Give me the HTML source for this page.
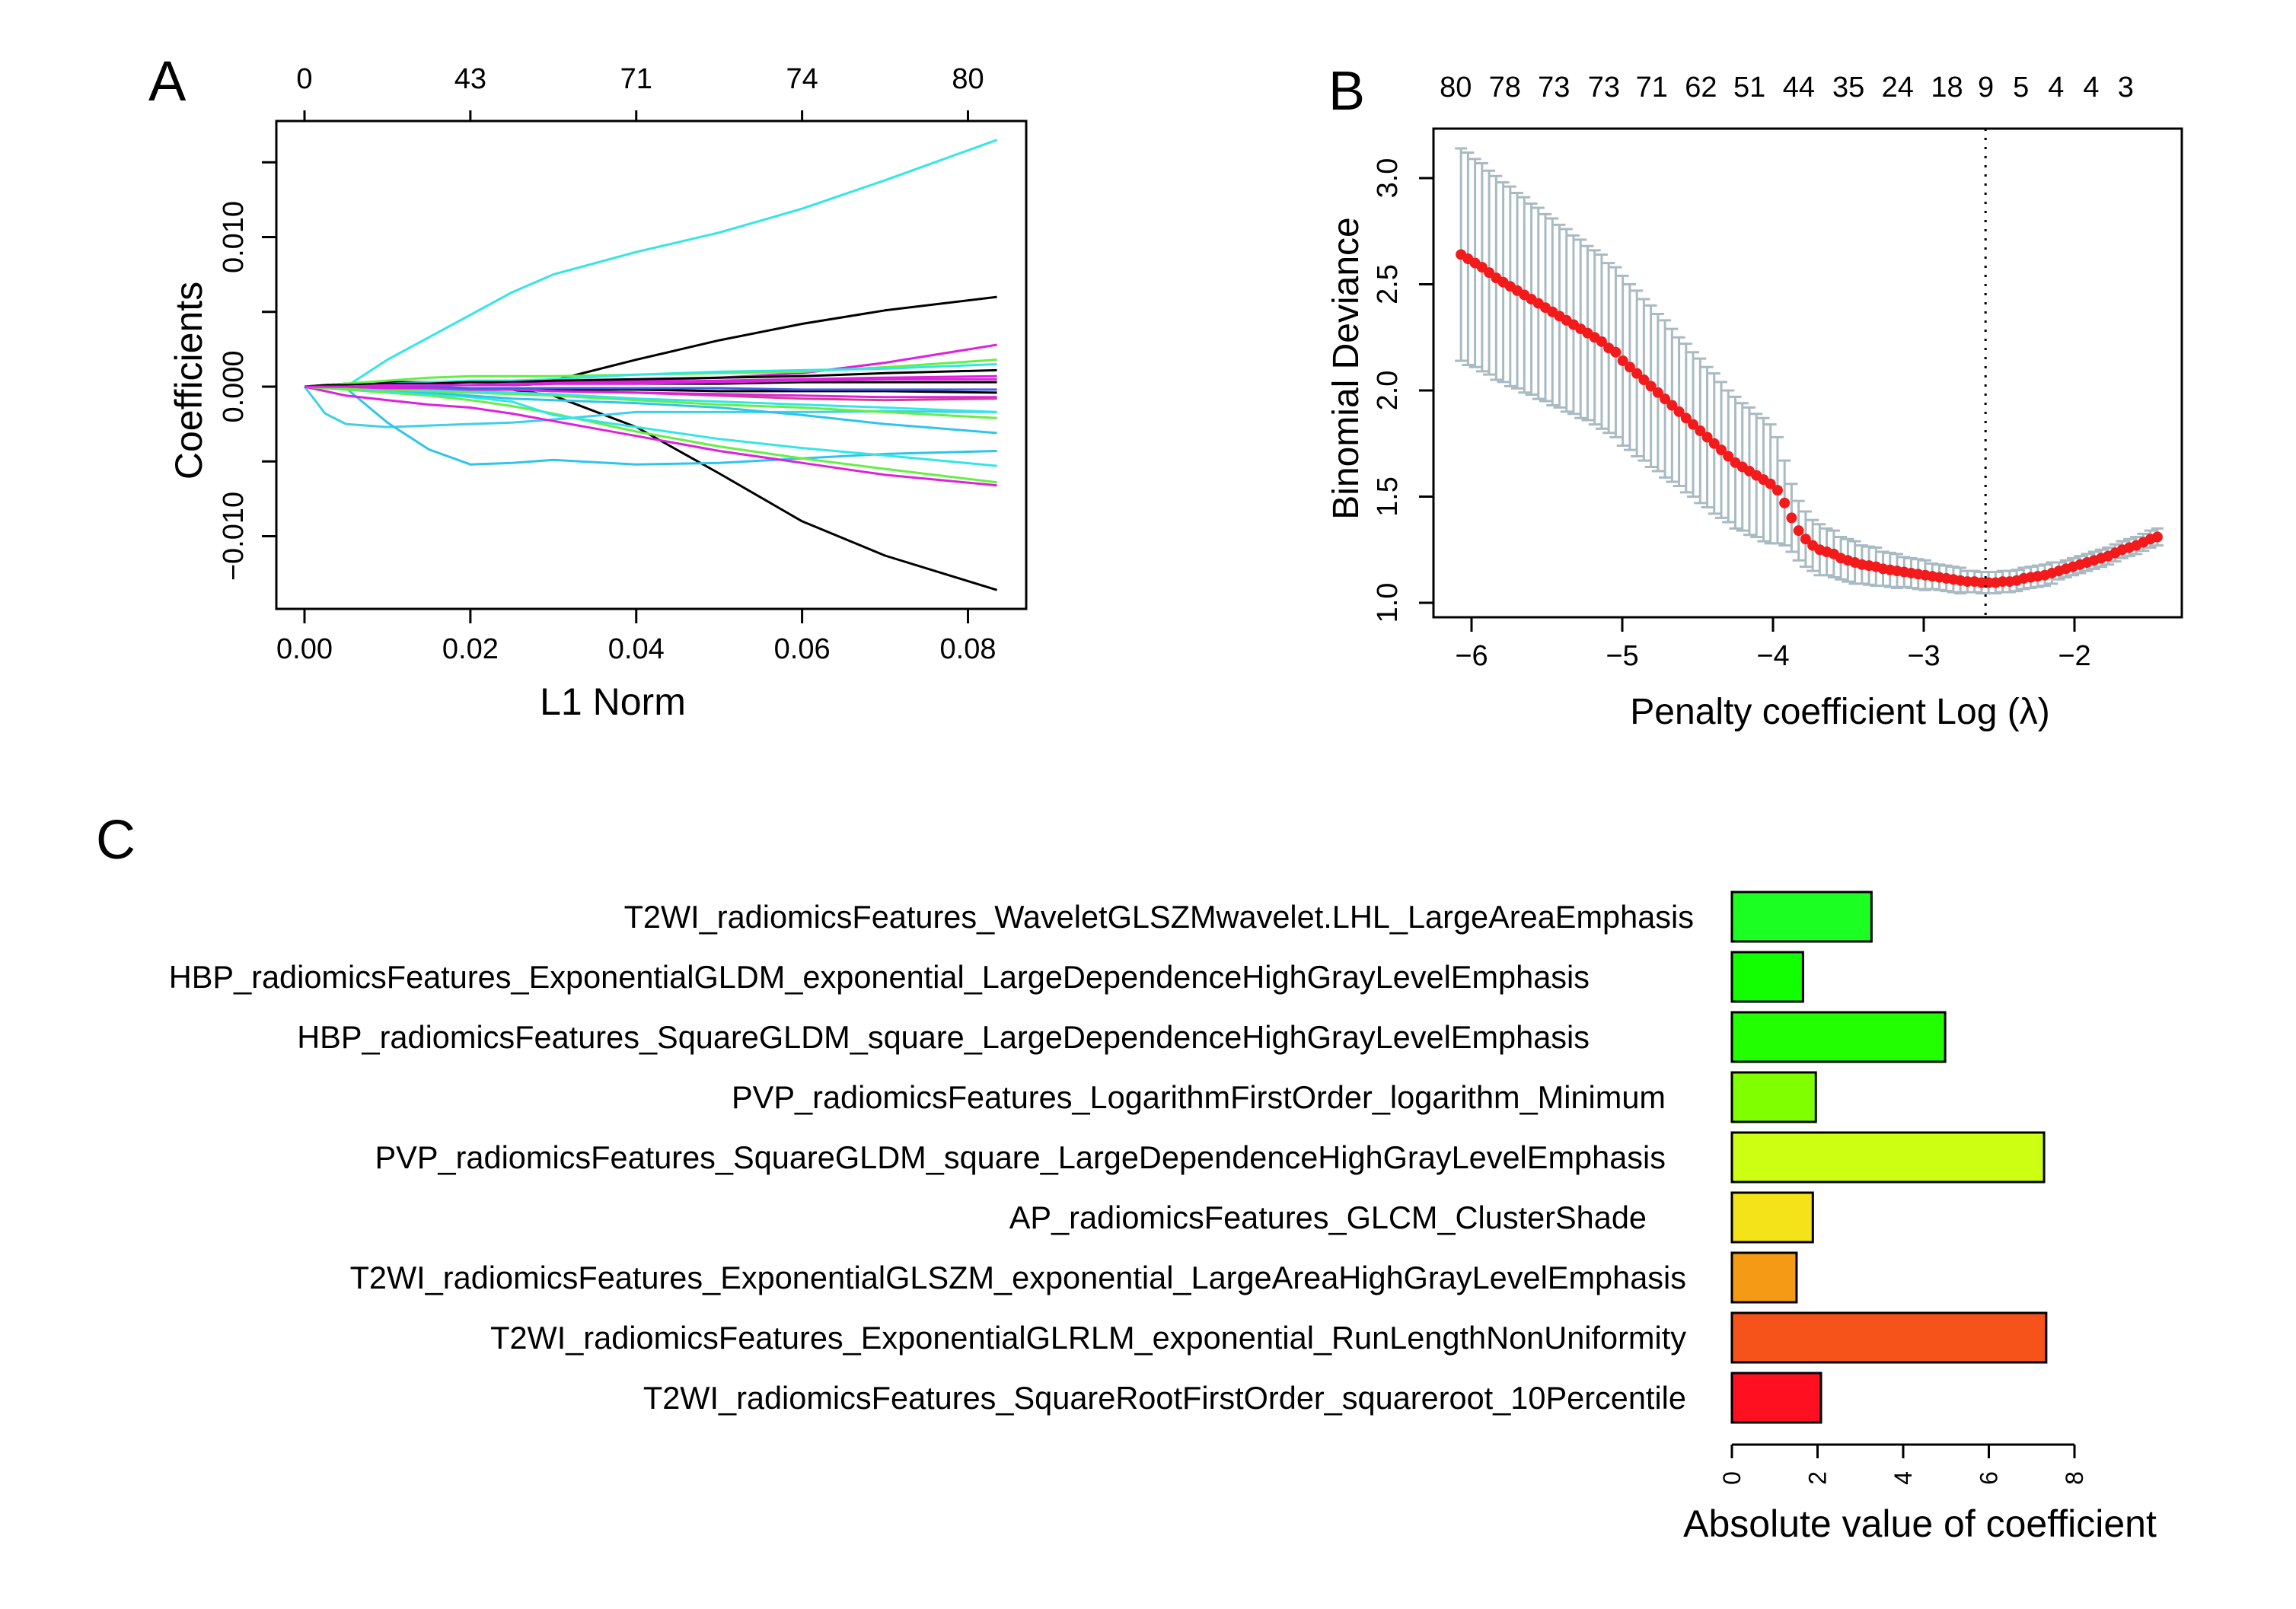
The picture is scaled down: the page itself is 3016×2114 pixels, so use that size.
<!DOCTYPE html>
<html><head><meta charset="utf-8"><style>
html,body{margin:0;padding:0;background:#fff}
svg{display:block;font-family:"Liberation Sans",Arial,sans-serif}
</style></head><body>
<svg id="fig" width="3016" height="2114" viewBox="0 0 3016 2114" xmlns="http://www.w3.org/2000/svg">
<rect width="3016" height="2114" fill="#fff"/>
<g id="pa"></g>
<g id="pb"></g>
<g id="pc"></g>
</svg>
<script>
// ===== Panel A data =====
const aL1 = [0,0.0025,0.005,0.01,0.015,0.02,0.025,0.03,0.04,0.05,0.06,0.07,0.0835];
const aXTicks = [0,0.02,0.04,0.06,0.08];
const aXTickLabels = ["0.00","0.02","0.04","0.06","0.08"];
const aTopLabels = ["0","43","71","74","80"];
const aYTicks = [-0.010,-0.005,0,0.005,0.010,0.015];
const aYTickLabels = ["\u22120.010","","0.000","","0.010",""];
const aColors = ["#33E6E6","#000","#000","#3DD0E8","#2EC4EE","#DD22DD","#66EE44","#33E6E6","#2EC4EE","#66EE44","#33E6E6","#DD22DD","#66EE44","#33E6E6","#000","#000","#000","#D04090","#DD22DD","#DD22DD","#4060E0","#DD22DD"];
const aSeries = [
[0,0,0,1.8,3.3,4.8,6.3,7.5,9.0,10.3,11.9,13.8,16.5],
[0,0.1,0.2,0.3,0.3,0.3,0.3,0.4,1.8,3.1,4.2,5.1,6.0],
[0,0,0,0,-0.1,-0.1,-0.2,-0.6,-2.7,-5.8,-9.0,-11.3,-13.6],
[0,-1.8,-2.5,-2.7,-2.6,-2.5,-2.4,-2.2,-1.7,-1.7,-1.7,-1.65,-1.7],
[0,-0.05,-0.1,-2.4,-4.2,-5.2,-5.1,-4.9,-5.2,-5.1,-4.8,-4.5,-4.3],
[0,-0.3,-0.6,-0.9,-1.2,-1.4,-1.8,-2.3,-3.3,-4.3,-5.1,-5.9,-6.6],
[0,-0.1,-0.2,-0.4,-0.6,-0.9,-1.3,-1.8,-3.0,-4.0,-4.8,-5.5,-6.4],
[0,0,-0.1,-0.3,-0.5,-0.7,-1.0,-1.9,-2.7,-3.5,-4.1,-4.6,-5.3],
[0,0,-0.1,-0.2,-0.4,-0.6,-0.8,-0.9,-1.1,-1.4,-1.9,-2.5,-3.1],
[0,0,-0.1,-0.2,-0.3,-0.4,-0.5,-0.6,-0.9,-1.2,-1.4,-1.7,-2.1],
[0,0,0,-0.1,-0.2,-0.3,-0.4,-0.5,-0.8,-1.0,-1.2,-1.4,-1.7],
[0,0,0,0,0.1,0.1,0.2,0.3,0.4,0.6,0.9,1.6,2.8],
[0,0.1,0.2,0.4,0.6,0.7,0.7,0.7,0.8,0.9,1.0,1.3,1.8],
[0,0,0.1,0.2,0.3,0.4,0.4,0.5,0.8,1.0,1.1,1.2,1.5],
[0,0.1,0.1,0.2,0.2,0.3,0.3,0.4,0.5,0.6,0.7,0.9,1.1],
[0,0,0,0.1,0.1,0.1,0.1,0.2,0.2,0.2,0.3,0.3,0.3],
[0,0,0,0,-0.1,-0.1,-0.1,-0.2,-0.2,-0.3,-0.3,-0.3,-0.4],
[0,0,0,-0.1,-0.1,-0.2,-0.2,-0.3,-0.4,-0.6,-0.8,-0.9,-0.8],
[0,0,0,-0.1,-0.1,-0.2,-0.2,-0.3,-0.4,-0.5,-0.6,-0.7,-0.7],
[0,0,0,0.1,0.1,0.1,0.2,0.2,0.3,0.4,0.5,0.6,0.7],
[0,0,0,0,0,-0.1,-0.1,-0.1,-0.1,-0.1,-0.2,-0.2,-0.2],
[0,0,0,0,0.1,0.1,0.1,0.2,0.2,0.3,0.4,0.5,0.5]
];
// ===== Panel B data =====
const bLogLambdaStart = -6.07;
const bLogLambdaEnd = -1.45;
const bMean = [2.64,2.62,2.60,2.58,2.555,2.53,2.51,2.49,2.47,2.45,2.43,2.41,2.39,2.37,2.35,2.33,2.31,2.29,2.27,2.25,2.23,2.20,2.18,2.14,
2.11,2.08,2.05,2.02,1.99,1.96,1.93,1.90,1.87,1.84,1.81,1.78,1.75,1.72,1.69,1.66,1.64,1.62,1.60,1.58,1.56,1.53,1.47,1.40,1.34,1.30,
1.27,1.25,1.24,1.23,1.21,1.20,1.19,1.18,1.175,1.17,1.16,1.155,1.15,1.145,1.14,1.135,1.13,1.125,1.12,1.115,1.11,1.105,1.10,1.10,1.095,
1.095,1.095,1.10,1.10,1.105,1.115,1.12,1.125,1.13,1.14,1.15,1.16,1.17,1.18,1.19,1.20,1.21,1.22,1.235,1.25,1.26,1.27,1.285,1.30,1.31];
const bSE = [0.50,0.50,0.49,0.49,0.48,0.48,0.47,0.47,0.46,0.46,0.45,0.45,0.44,0.44,0.43,0.43,0.42,0.42,0.41,0.41,0.41,0.40,0.40,0.40,
0.39,0.39,0.38,0.38,0.37,0.37,0.36,0.35,0.35,0.34,0.34,0.33,0.33,0.32,0.31,0.31,0.30,0.30,0.29,0.29,0.28,0.25,0.20,0.16,0.14,0.13,
0.12,0.12,0.11,0.11,0.10,0.10,0.10,0.09,0.09,0.09,0.08,0.08,0.08,0.07,0.07,0.07,0.07,0.06,0.06,0.06,
0.06,0.06,0.05,0.05,0.05,0.05,0.05,0.05,0.05,0.05,0.05,0.05,0.05,0.05,0.05,0.04,0.04,0.04,0.04,0.04,
0.04,0.04,0.04,0.04,0.04,0.04,0.04,0.04,0.04,0.04];
const bXTicks = [-6,-5,-4,-3,-2];
const bXTickLabels = ["\u22126","\u22125","\u22124","\u22123","\u22122"];
const bYTicks = [1.0,1.5,2.0,2.5,3.0];
const bYTickLabels = ["1.0","1.5","2.0","2.5","3.0"];
const bTopPos = [-6.105,-5.779,-5.453,-5.122,-4.804,-4.478,-4.156,-3.829,-3.499,-3.173,-2.846,-2.588,-2.355,-2.122,-1.889,-1.66];
const bTopLabels = ["80","78","73","73","71","62","51","44","35","24","18","9","5","4","4","3"];
const bLambdaMin = -2.59;
// ===== Panel C data =====
const cFeatures = [
"T2WI_radiomicsFeatures_WaveletGLSZMwavelet.LHL_LargeAreaEmphasis",
"HBP_radiomicsFeatures_ExponentialGLDM_exponential_LargeDependenceHighGrayLevelEmphasis",
"HBP_radiomicsFeatures_SquareGLDM_square_LargeDependenceHighGrayLevelEmphasis",
"PVP_radiomicsFeatures_LogarithmFirstOrder_logarithm_Minimum",
"PVP_radiomicsFeatures_SquareGLDM_square_LargeDependenceHighGrayLevelEmphasis",
"AP_radiomicsFeatures_GLCM_ClusterShade",
"T2WI_radiomicsFeatures_ExponentialGLSZM_exponential_LargeAreaHighGrayLevelEmphasis",
"T2WI_radiomicsFeatures_ExponentialGLRLM_exponential_RunLengthNonUniformity",
"T2WI_radiomicsFeatures_SquareRootFirstOrder_squareroot_10Percentile"];
const cValues = [3.26,1.66,4.98,1.96,7.29,1.89,1.51,7.34,2.08];
const cColors = ["#1CFF22","#11FF00","#22FF00","#80FF00","#CCFF11","#F5E31A","#F59A14","#F5531A","#FF1020"];
const cXTicks = [0,2,4,6,8];
const cXTickLabels = ["0","2","4","6","8"];

const NS="http://www.w3.org/2000/svg";
function mk(parent,tag,attrs,text){const e=document.createElementNS(NS,tag);for(const k in attrs)e.setAttribute(k,attrs[k]);if(text!==undefined)e.textContent=text;parent.appendChild(e);return e;}

// ===== Panel A =====
(function(){
const g=document.getElementById('pa');
const xA=v=>400+v/0.08*871.5, yA=v=>508-v*19.65;
const box=mk(g,'rect',{x:363,y:159,width:985,height:641,fill:'none',stroke:'#000','stroke-width':3});


aSeries.forEach((s,i)=>{
 const p=mk(g,'polyline',{points:s.map((v,j)=>xA(aL1[j]).toFixed(1)+','+yA(v).toFixed(1)).join(' '),fill:'none',stroke:aColors[i],'stroke-width':3,'stroke-linejoin':'round'});
 
 
});
aXTicks.forEach((t,i)=>{
 const x=xA(t);
 mk(g,'line',{x1:x,y1:800,x2:x,y2:819,stroke:'#000','stroke-width':3});
 mk(g,'line',{x1:x,y1:159,x2:x,y2:145,stroke:'#000','stroke-width':3});
 const l=mk(g,'text',{x:x,y:865,'font-size':38,'text-anchor':'middle'},aXTickLabels[i]);
 
 
 const tl=mk(g,'text',{x:x,y:116,'font-size':38,'text-anchor':'middle'},aTopLabels[i]);
 
 
});
aYTicks.forEach((t,i)=>{
 const y=yA(t*1000);
 mk(g,'line',{x1:363,y1:y,x2:344,y2:y,stroke:'#000','stroke-width':3});
 if(aYTickLabels[i]){
  const l=mk(g,'text',{x:0,y:0,'font-size':38,'text-anchor':'middle',transform:`translate(319,${y}) rotate(-90)`},aYTickLabels[i]);
  
  
 }
});
const xt=mk(g,'text',{x:805,y:939,'font-size':50,'text-anchor':'middle'},'L1 Norm');


const yt=mk(g,'text',{x:0,y:0,'font-size':50,'text-anchor':'middle',transform:'translate(265,500) rotate(-90)'},'Coefficients');


const pl=mk(g,'text',{x:195,y:132,'font-size':74},'A');


})();

// ===== Panel B =====
(function(){
const g=document.getElementById('pb');
const xB=v=>1933+(v+6)*198, yB=v=>792-(v-1)*279;
const n=bMean.length, step=(bLogLambdaEnd-bLogLambdaStart)/(n-1);
bMean.forEach((m,i)=>{
 const x=xB(bLogLambdaStart+i*step), hi=yB(m+bSE[i]), lo=yB(m-bSE[i]);
 const e=mk(g,'path',{d:`M${x},${hi}V${lo}M${x-8},${hi}H${x+8}M${x-8},${lo}H${x+8}`,stroke:'#A8BAC2','stroke-width':3,fill:'none'});
 
 
});
bMean.forEach((m,i)=>{
 const c=mk(g,'ellipse',{cx:xB(bLogLambdaStart+i*step),cy:yB(m),rx:7,ry:7,fill:'#F21A1A'});
 
 
});
const vl=mk(g,'line',{x1:xB(bLambdaMin),y1:169,x2:xB(bLambdaMin),y2:811,stroke:'#000','stroke-width':3,'stroke-dasharray':'3,9'});


const box=mk(g,'rect',{x:1883,y:169,width:983,height:642,fill:'none',stroke:'#000','stroke-width':3});


bXTicks.forEach((t,i)=>{
 const x=xB(t);
 mk(g,'line',{x1:x,y1:811,x2:x,y2:830,stroke:'#000','stroke-width':3});
 const l=mk(g,'text',{x:x,y:874,'font-size':38,'text-anchor':'middle'},bXTickLabels[i]);
 
 
});
bYTicks.forEach((t,i)=>{
 const y=yB(t);
 mk(g,'line',{x1:1883,y1:y,x2:1864,y2:y,stroke:'#000','stroke-width':3});
 const l=mk(g,'text',{x:0,y:0,'font-size':38,'text-anchor':'middle',transform:`translate(1835,${y}) rotate(-90)`},bYTickLabels[i]);
 
 
});
bTopPos.forEach((p,i)=>{
 const l=mk(g,'text',{x:xB(p),y:127,'font-size':38,'text-anchor':'middle'},bTopLabels[i]);
 
 
});
const xt=mk(g,'text',{x:2417,y:951,'font-size':48,'text-anchor':'middle'},'Penalty coefficient Log (\u03bb)');


const yt=mk(g,'text',{x:0,y:0,'font-size':48,'text-anchor':'middle',transform:'translate(1784,484) rotate(-90)'},'Binomial Deviance');


const pl=mk(g,'text',{x:1745,y:144,'font-size':72},'B');


})();

// ===== Panel C =====
(function(){
const g=document.getElementById('pc');
const x0=2275, xC=v=>x0+v*56.25;
const labelRight=[2225,2088,2088,2188,2188,2163,2215,2215,2215];
cValues.forEach((v,i)=>{
 const top=1172+i*79;
 const r=mk(g,'rect',{x:x0,y:top,width:xC(v)-x0,height:65,fill:cColors[i],stroke:'#000','stroke-width':3});
 
 
 const t=mk(g,'text',{x:labelRight[i],y:top+47,'font-size':41.5,'text-anchor':'end'},cFeatures[i]);
 
 
});
const ax=mk(g,'line',{x1:xC(0),y1:1898,x2:xC(8),y2:1898,stroke:'#000','stroke-width':3});


cXTicks.forEach((t,i)=>{
 const x=xC(t);
 mk(g,'line',{x1:x,y1:1898,x2:x,y2:1916,stroke:'#000','stroke-width':3});
 const l=mk(g,'text',{x:0,y:0,'font-size':32,'text-anchor':'middle',transform:`translate(${x+11},1942) rotate(-90)`},cXTickLabels[i]);
 
 
});
const xt=mk(g,'text',{x:2522,y:2019,'font-size':50,'text-anchor':'middle'},'Absolute value of coefficient');


const pl=mk(g,'text',{x:126,y:1128,'font-size':72},'C');


})();
</script>
</body></html>
